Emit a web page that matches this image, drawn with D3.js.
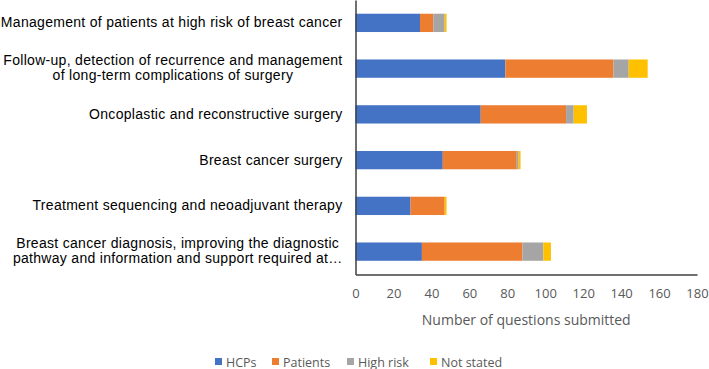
<!DOCTYPE html>
<html>
<head>
<meta charset="utf-8">
<script src="https://cdn.jsdelivr.net/npm/d3@7"></script>
<style>
  body { margin: 0; background: white; }
</style>
</head>
<body>
<div id="chart"></div>
<script>
// categories, top to bottom; each label may span two lines
var categories = [
  ["Management of patients at high risk of breast cancer"],
  ["Follow-up, detection of recurrence and management", "of long-term complications of surgery"],
  ["Oncoplastic and reconstructive surgery"],
  ["Breast cancer surgery"],
  ["Treatment sequencing and neoadjuvant therapy"],
  ["Breast cancer diagnosis, improving the diagnostic", "pathway and information and support required at\u2026"]
];
var seriesNames = ["HCPs", "Patients", "High risk", "Not stated"];
var hcps      = [34, 79, 66, 46, 29, 35];
var patients  = [7, 57, 45, 39, 18, 53];
var highRisk  = [6, 8, 4, 1, 0, 11];
var notStated = [1, 10, 7, 1, 1, 4];
var xTicks = [0, 20, 40, 60, 80, 100, 120, 140, 160, 180];
var colors = ["#4472C4", "#ED7D31", "#A5A5A5", "#FFC000"];

var width = 709, height = 369;
var margin = {left: 355.5, right: 12, top: 0, bottom: 94.5};
var w = width - margin.left - margin.right;
var h = height - margin.top - margin.bottom;

var rows = categories.map(function (c, i) {
  return {key: i, HCPs: hcps[i], Patients: patients[i], "High risk": highRisk[i], "Not stated": notStated[i]};
});

var svg = d3.select("#chart").append("svg")
  .attr("width", width)
  .attr("height", height);

var g = svg.append("g")
  .attr("transform", "translate(" + margin.left + "," + margin.top + ")");

var xscale = d3.scaleLinear().domain([0, 180]).range([0, w]);
var yscale = d3.scaleBand().domain(d3.range(categories.length)).range([0, h]).paddingInner(0.6).paddingOuter(0.3);

var stack = d3.stack().keys(seriesNames)(rows);

g.selectAll("g.layer")
  .data(stack)
  .enter().append("g")
  .attr("class", "layer")
  .attr("fill", function (d, i) { return colors[i]; })
  .selectAll("rect")
  .data(function (d) { return d; })
  .enter().append("rect")
  .attr("x", function (d) { return xscale(d[0]); })
  .attr("width", function (d) { return xscale(d[1]) - xscale(d[0]); })
  .attr("y", function (d) { return yscale(d.data.key); })
  .attr("height", yscale.bandwidth());

// axes
var xAxis = g.append("g")
  .attr("transform", "translate(0," + h + ")")
  .call(d3.axisBottom(xscale).tickValues(xTicks).tickSize(0).tickPadding(14));
xAxis.select(".domain").attr("stroke", "#404040").attr("stroke-width", 1.5);
xAxis.selectAll("text")
  .attr("fill", "#595959")
  .style("font-family", "'Open Sans', sans-serif")
  .style("font-size", "13px");

var yAxis = g.append("g")
  .call(d3.axisLeft(yscale).tickSize(0).tickFormat(""));
yAxis.select(".domain").attr("stroke", "#404040").attr("stroke-width", 1.5);

// category labels: right aligned, second line centred under the first
var labelX = -13;
var labels = g.append("g").selectAll("text")
  .data(categories)
  .enter().append("text")
  .attr("y", function (d, i) { return yscale(i) + yscale.bandwidth() / 2; })
  .attr("fill", "#000")
  .style("font-family", "'Liberation Sans', Arial, sans-serif")
  .style("font-size", "14px")
  .style("letter-spacing", "0.3px");

labels.each(function (d) {
  var t = d3.select(this);
  var spans = t.selectAll("tspan")
    .data(d)
    .enter().append("tspan")
    .attr("dy", function (s, j) {
      if (d.length === 1) return "4.5px";
      return j === 0 ? "-3.5px" : "15px";
    })
    .text(function (s) { return s; });
  if (d.length === 1) {
    spans.attr("x", labelX).attr("text-anchor", "end");
  } else {
    var widths = spans.nodes().map(function (n) { return n.getComputedTextLength(); });
    var maxW = d3.max(widths);
    spans.attr("x", labelX - maxW / 2).attr("text-anchor", "middle");
  }
});

// axis title
g.append("text")
  .attr("x", w / 2)
  .attr("y", h + 50)
  .attr("text-anchor", "middle")
  .attr("fill", "#595959")
  .style("font-family", "'Open Sans', sans-serif")
  .style("font-size", "14px")
  .text("Number of questions submitted");

// legend
var legendX = [215, 272, 347, 430];
var legend = svg.append("g").selectAll("g")
  .data(seriesNames)
  .enter().append("g")
  .attr("transform", function (d, i) { return "translate(" + legendX[i] + ",362)"; });

legend.append("rect")
  .attr("x", 0).attr("y", -4)
  .attr("width", 7).attr("height", 7)
  .attr("fill", function (d, i) { return colors[i]; });

legend.append("text")
  .attr("x", 11)
  .attr("y", 4.5)
  .attr("fill", "#595959")
  .style("font-family", "'Open Sans', sans-serif")
  .style("font-size", "12.5px")
  .text(function (d) { return d; });
</script>
</body>
</html>
